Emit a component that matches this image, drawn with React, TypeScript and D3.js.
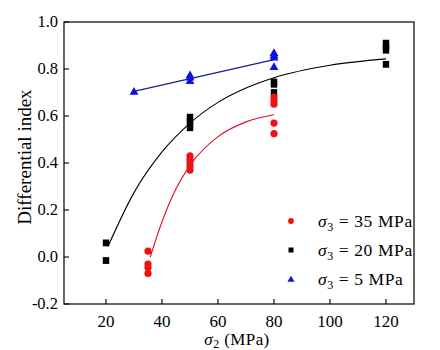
import { scaleLinear, line, curveMonotoneX, symbol, symbolTriangle } from 'd3'

// measured points, [sigma2, index]
const red35: [number, number][] = [
  [35, 0.025], [35, -0.03], [35, -0.045], [35, -0.07],
  [50, 0.43], [50, 0.415], [50, 0.4], [50, 0.385], [50, 0.37],
  [80, 0.68], [80, 0.665], [80, 0.65], [80, 0.57], [80, 0.525],
]
const black20: [number, number][] = [
  [20, 0.06], [20, -0.015],
  [50, 0.595], [50, 0.58], [50, 0.565], [50, 0.55],
  [80, 0.745], [80, 0.735], [80, 0.7],
  [120, 0.91], [120, 0.895], [120, 0.88], [120, 0.82],
]
const blue5: [number, number][] = [
  [30, 0.705],
  [50, 0.775], [50, 0.765], [50, 0.75],
  [80, 0.87], [80, 0.86], [80, 0.85], [80, 0.81],
]

// fitted curves
const redFit: [number, number][] = [
  [35.8, 0.0], [40, 0.15], [45, 0.29], [50, 0.39], [60, 0.512], [70, 0.575], [80, 0.605],
]
const blackFit: [number, number][] = [
  [20.7, 0.045], [30, 0.274], [40, 0.447], [50, 0.57], [60, 0.658], [70, 0.719],
  [80, 0.763], [100, 0.816], [120, 0.843],
]
const blueFit: [number, number][] = [[30, 0.705], [80, 0.84]]

const xTicks = [20, 40, 60, 80, 100, 120]
const yTicks = [-0.2, 0.0, 0.2, 0.4, 0.6, 0.8, 1.0]

const legendItems = [
  { label: '35', color: '#ee1111', kind: 'circle' },
  { label: '20', color: '#000000', kind: 'square' },
  { label: '5', color: '#1010dd', kind: 'triangle' },
]

const font = "'Liberation Serif'"

export default function App() {
  const left = 64, right = 414, top = 22, bottom = 304
  const x = scaleLinear().domain([5, 130]).range([left, right])
  const y = scaleLinear().domain([-0.2, 1.0]).range([bottom, top])

  const fitLine = line<[number, number]>()
    .x((d) => x(d[0]))
    .y((d) => y(d[1]))
    .curve(curveMonotoneX)

  const tri = symbol().type(symbolTriangle).size(34)()
  const triSmall = symbol().type(symbolTriangle).size(22)()

  const marker = (kind: string, color: string, cx: number, cy: number, key: any, small = false) => {
    if (kind === 'circle') return <circle key={key} cx={cx} cy={cy} r={small ? 2.9 : 3.6} fill={color} />
    if (kind === 'square') {
      const w = small ? 5 : 6.4
      const h = small ? 5 : 6.8
      return <rect key={key} x={cx - w / 2} y={cy - h / 2} width={w} height={h} fill={color} />
    }
    return <path key={key} d={(small ? triSmall : tri) as string} transform={`translate(${cx},${cy + 0.8})`} fill={color} />
  }

  return (
    <svg width={440} height={350} style={{ position: 'absolute', left: 0, top: 0, background: '#fff', fontFamily: font }}>
      {/* fit curves */}
      <path d={fitLine(blackFit) ?? ''} fill="none" stroke="#000" strokeWidth={1.1} />
      <path d={fitLine(redFit) ?? ''} fill="none" stroke="#d8102a" strokeWidth={1.1} />
      <path d={fitLine(blueFit) ?? ''} fill="none" stroke="#1a1aa0" strokeWidth={1.3} />

      {black20.map((d, i) => marker('square', '#000', x(d[0]), y(d[1]), 'b' + i))}
      {red35.map((d, i) => marker('circle', '#ee1111', x(d[0]), y(d[1]), 'r' + i))}
      {blue5.map((d, i) => marker('triangle', '#1010dd', x(d[0]), y(d[1]), 't' + i))}

      {/* frame */}
      <rect x={left} y={top} width={right - left} height={bottom - top} fill="none" stroke="#000" strokeWidth={1.2} />

      {xTicks.map((t) => (
        <g key={t}>
          <line x1={x(t)} x2={x(t)} y1={bottom} y2={bottom - 5} stroke="#000" strokeWidth={1.1} />
          <text x={x(t)} y={327} textAnchor="middle" fontSize={17} style={{ fontFamily: font }}>{t}</text>
        </g>
      ))}
      {yTicks.map((t) => (
        <g key={t}>
          <line x1={left} x2={left + 5} y1={y(t)} y2={y(t)} stroke="#000" strokeWidth={1.1} />
          <text x={58} y={y(t) + 5} textAnchor="end" fontSize={16.5} style={{ fontFamily: font }}>{t.toFixed(1)}</text>
        </g>
      ))}

      <text transform="translate(31,157) rotate(-90)" textAnchor="middle" fontSize={19} style={{ fontFamily: font }}>Differential index</text>
      <text x={237} y={345} textAnchor="middle" fontSize={17} letterSpacing={0.4} style={{ fontFamily: font }}>
        <tspan fontStyle="italic">σ</tspan>
        <tspan fontSize={12} dy={3}>2</tspan>
        <tspan dy={-3}> (MPa)</tspan>
      </text>

      {legendItems.map((it, i) => {
        const ly = 221 + i * 29
        return (
          <g key={it.label}>
            {marker(it.kind, it.color, 291, ly, 'l' + i, true)}
            <text x={318} y={ly + 6} fontSize={17.5} letterSpacing={0.6} style={{ fontFamily: font }}>
              <tspan fontStyle="italic">σ</tspan>
              <tspan fontSize={12} dy={4}>3</tspan>
              <tspan dy={-4}> = </tspan>
              <tspan>{it.label} MPa</tspan>
            </text>
          </g>
        )
      })}
    </svg>
  )
}
